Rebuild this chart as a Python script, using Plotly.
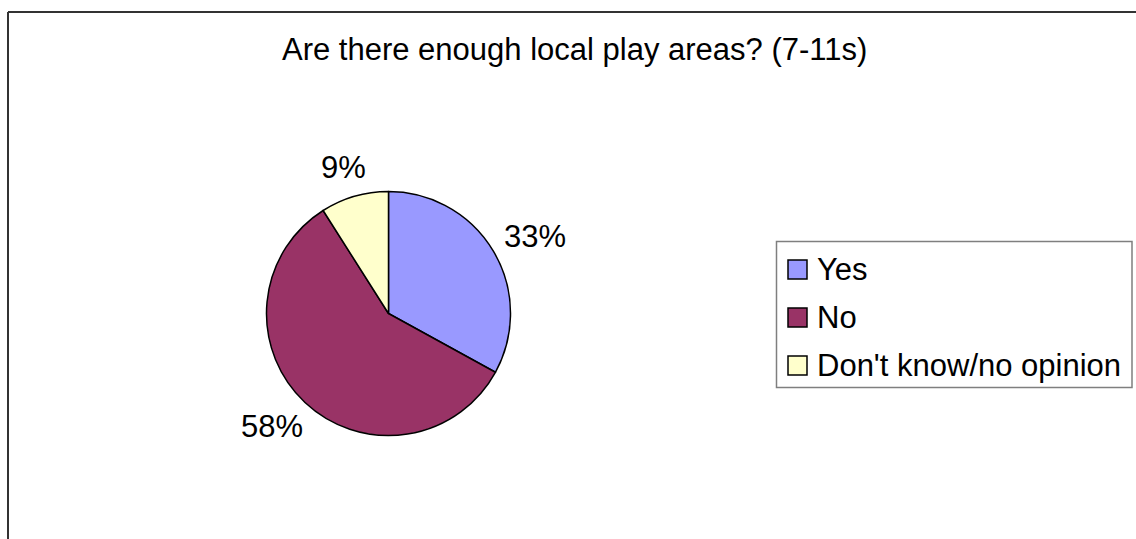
import math
import plotly.graph_objects as go

# Survey answers (percent of respondents)
categories = ["Yes", "No", "Don't know/no opinion"]
shares = [33, 58, 9]
slice_colors = ["#9999FF", "#993366", "#FFFFCC"]
title_text = "Are there enough local play areas? (7-11s)"

W, H = 1136, 539
FONT = "Liberation Sans, Arial, sans-serif"
FS = 31

# pie geometry in pixels
cx, cy, r = 388.5, 313.5, 122


def px(x):
    return x / W


def py(y):
    return 1 - y / H


fig = go.Figure(
    go.Pie(
        labels=categories,
        values=shares,
        marker=dict(colors=slice_colors, line=dict(color="black", width=1.5)),
        sort=False,
        direction="clockwise",
        rotation=0,
        textinfo="none",
        hoverinfo="label+percent",
        showlegend=False,
        domain=dict(x=[px(cx - r), px(cx + r)], y=[py(cy + r), py(cy - r)]),
    )
)

annotations = []
shapes = []

# percentage labels placed outside each slice, at the slice's mid angle
total = sum(shares)
cum = 0
for v in shares:
    theta = 2 * math.pi * (cum + v / 2) / total
    cum += v
    sx, sy = math.sin(theta), math.cos(theta)
    label = f"{round(100 * v / total)}%"
    w = 0.6 * FS * len(label)
    h = 22
    lx = cx + (r + 20) * sx + sx * w / 2
    ly = cy - (r + 20) * sy - sy * h / 2
    annotations.append(dict(
        x=px(lx), y=py(ly + 1), xref="paper", yref="paper",
        text=label, showarrow=False, xanchor="center", yanchor="middle",
        font=dict(family=FONT, size=FS, color="black"),
    ))

# title
annotations.append(dict(
    x=px(574), y=py(49), xref="paper", yref="paper", text=title_text,
    showarrow=False, xanchor="center", yanchor="middle",
    font=dict(family=FONT, size=FS, color="black"),
))

# legend box
shapes.append(dict(type="rect", xref="paper", yref="paper",
                   x0=px(776.5), x1=px(1132), y0=py(387.5), y1=py(241.5),
                   line=dict(color="#7f7f7f", width=1.5), fillcolor="white"))
row0, row_gap, sw = 269.5, 48, 19
for i, (name, col) in enumerate(zip(categories, slice_colors)):
    yc = row0 + i * row_gap
    shapes.append(dict(type="rect", xref="paper", yref="paper",
                       x0=px(788), x1=px(788 + sw), y0=py(yc + sw / 2), y1=py(yc - sw / 2),
                       line=dict(color="black", width=1.5), fillcolor=col))
    annotations.append(dict(
        x=px(815), y=py(yc), xref="paper", yref="paper", text=name,
        showarrow=False, xanchor="left", yanchor="middle",
        font=dict(family=FONT, size=FS, color="black"),
    ))

# chart frame (top and left edges)
shapes.append(dict(type="line", xref="paper", yref="paper",
                   x0=px(8), x1=px(W + 5), y0=py(12), y1=py(12),
                   line=dict(color="#333333", width=2)))
shapes.append(dict(type="line", xref="paper", yref="paper",
                   x0=px(8), x1=px(8), y0=py(12), y1=py(H + 5),
                   line=dict(color="#333333", width=2)))

fig.update_layout(
    width=W, height=H,
    margin=dict(l=0, r=0, t=0, b=0),
    paper_bgcolor="white", plot_bgcolor="white",
    showlegend=False,
    annotations=annotations,
    shapes=shapes,
)

fig.write_html("out.html")
